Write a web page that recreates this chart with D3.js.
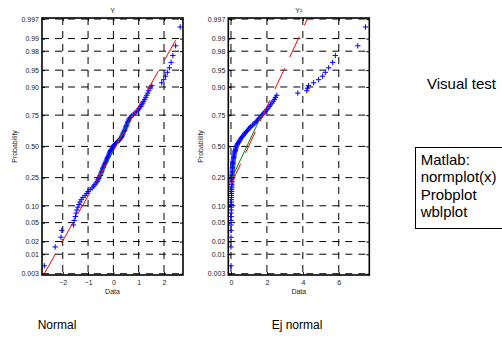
<!DOCTYPE html>
<html>
<head>
<meta charset="utf-8">
<script src="https://cdn.jsdelivr.net/npm/d3@7"></script>
<style>
  body { margin: 0; background: #fff; }
  svg { display: block; font-family: "Liberation Sans", Arial, sans-serif; }
</style>
</head>
<body>
<svg id="chart" width="502" height="338"></svg>
<script>
// sorted samples
const dataY = [
  -2.73, -2.30, -2.07, -2.04, -1.58, -1.55, -1.50, -1.47, -1.44, -1.40,
  -1.36, -1.32, -1.27, -1.20, -1.12, -1.05, -1.00, -0.92, -0.84, -0.78,
  -0.73, -0.68, -0.64, -0.61, -0.58, -0.55, -0.52, -0.50, -0.48, -0.46,
  -0.44, -0.42, -0.40, -0.38, -0.36, -0.33, -0.31, -0.29, -0.27, -0.25,
  -0.23, -0.21, -0.19, -0.17, -0.15, -0.13, -0.11, -0.08, -0.05, -0.02,
  0.01, 0.04, 0.08, 0.13, 0.18, 0.24, 0.28, 0.31, 0.33, 0.35,
  0.37, 0.39, 0.42, 0.44, 0.46, 0.48, 0.50, 0.52, 0.54, 0.56,
  0.58, 0.60, 0.63, 0.67, 0.72, 0.79, 0.86, 0.92, 0.98, 1.03,
  1.08, 1.12, 1.16, 1.20, 1.24, 1.28, 1.32, 1.36, 1.40, 1.45,
  1.52, 1.91, 1.99, 2.06, 2.13, 2.21, 2.28, 2.35, 2.46, 2.64
];
const dataY2 = [
  0.000, 0.001, 0.002, 0.004, 0.005, 0.006, 0.008, 0.010, 0.012, 0.014,
  0.016, 0.018, 0.020, 0.022, 0.025, 0.027, 0.030, 0.032, 0.035, 0.038,
  0.041, 0.044, 0.047, 0.050, 0.054, 0.058, 0.062, 0.066, 0.070, 0.075,
  0.080, 0.085, 0.090, 0.096, 0.102, 0.108, 0.115, 0.122, 0.130, 0.140,
  0.150, 0.162, 0.175, 0.190, 0.205, 0.220, 0.238, 0.255, 0.275, 0.295,
  0.32, 0.35, 0.38, 0.42, 0.46, 0.50, 0.55, 0.59, 0.64, 0.69,
  0.75, 0.80, 0.86, 0.92, 0.98, 1.04, 1.10, 1.20, 1.27, 1.34,
  1.41, 1.48, 1.55, 1.62, 1.69, 1.76, 1.83, 1.91, 1.99, 2.06,
  2.13, 2.20, 2.28, 2.35, 2.42, 2.48, 2.55, 3.72, 4.22, 4.26,
  4.32, 4.60, 4.88, 5.10, 5.25, 5.44, 5.66, 5.81, 7.06, 7.49
];

const probTicks = [0.003, 0.01, 0.02, 0.05, 0.10, 0.25, 0.50, 0.75, 0.90, 0.95, 0.98, 0.99, 0.997];
const probLabels = ["0.003", "0.01", "0.02", "0.05", "0.10", "0.25", "0.50", "0.75", "0.90", "0.95", "0.98", "0.99", "0.997"];
const xTicksY = [-2, -1, 0, 1, 2];
const xTicksY2 = [0, 2, 4, 6];
const xRangeY = [-2.82, 2.75];
const xRangeY2 = [-0.15, 7.7];
// red reference line [mean, std] as seen in the plots
const refLineY = [0.10, 1.03];
const refLineY2 = [0.98, 1.19];
const panelTitles = ["Y", "Y\u00b2"];
const captions = ["Normal", "Ej normal"];
const sideTitle = "Visual test";
const noteLines = ["Matlab:", "normplot(x)", "Probplot", "wblplot"];

// inverse normal cdf (Acklam)
function probit(p) {
  const a = [-39.69683028665376, 220.9460984245205, -275.9285104469687, 138.3577518672690, -30.66479806614716, 2.506628277459239];
  const b = [-54.47609879822406, 161.5858368580409, -155.6989798598866, 66.80131188771972, -13.28068155288572];
  const c = [-0.007784894002430293, -0.3223964580411365, -2.400758277161838, -2.549671010029161, 4.374664141464968, 2.938163982698783];
  const d = [0.007784695709041462, 0.3224671290700398, 2.445134137142996, 3.754408661907416];
  const pl = 0.02425;
  if (p < pl) {
    const q = Math.sqrt(-2 * Math.log(p));
    return (((((c[0]*q+c[1])*q+c[2])*q+c[3])*q+c[4])*q+c[5]) / ((((d[0]*q+d[1])*q+d[2])*q+d[3])*q+1);
  }
  if (p <= 1 - pl) {
    const q = p - 0.5, r = q * q;
    return (((((a[0]*r+a[1])*r+a[2])*r+a[3])*r+a[4])*r+a[5])*q / (((((b[0]*r+b[1])*r+b[2])*r+b[3])*r+b[4])*r+1);
  }
  return -probit(1 - p);
}

const svg = d3.select('#chart');
const yTop = 18, yBottom = 275;
const font = 7;

const yScale = d3.scaleLinear().domain([-2.775, 2.77]).range([yBottom, yTop]);

const panels = [
  { data: dataY, xDomain: xRangeY, xTicks: xTicksY, ref: refLineY, title: panelTitles[0], caption: captions[0], left: 42, right: 183, captionX: 57 },
  { data: dataY2, xDomain: xRangeY2, xTicks: xTicksY2, ref: refLineY2, title: panelTitles[1], caption: captions[1], left: 228.3, right: 369.3, captionX: 297 }
];

panels.forEach((pnl, k) => {
  const xScale = d3.scaleLinear().domain(pnl.xDomain).range([pnl.left, pnl.right]);
  const n = pnl.data.length;
  const pts = pnl.data.map((v, i) => ({ v, z: probit((i + 0.5) / n) }));

  const clipId = 'clip' + k;
  svg.append('clipPath').attr('id', clipId)
    .append('rect')
    .attr('x', pnl.left).attr('y', yTop)
    .attr('width', pnl.right - pnl.left).attr('height', yBottom - yTop);

  const g = svg.append('g');

  // dashed grid
  const grid = g.append('g').attr('stroke', '#000').attr('stroke-width', 1).attr('stroke-dasharray', '7,6');
  grid.selectAll('line.h')
    .data(probTicks)
    .enter()
    .append('line')
    .attr('x1', pnl.left).attr('x2', pnl.right)
    .attr('y1', (p) => yScale(probit(p))).attr('y2', (p) => yScale(probit(p)));
  grid.selectAll('line.v')
    .data(pnl.xTicks)
    .enter()
    .append('line')
    .attr('x1', (d) => xScale(d)).attr('x2', (d) => xScale(d))
    .attr('y1', yTop).attr('y2', yBottom);

  const plot = g.append('g').attr('clip-path', `url(#${clipId})`);

  // data as blue plus signs
  plot.selectAll('path.pt')
    .data(pts)
    .enter()
    .append('path')
    .attr('d', (d) => {
      const x = xScale(d.v), y = yScale(d.z);
      return `M${x - 2.7},${y}h5.4M${x},${y - 2.7}v5.4`;
    })
    .attr('stroke', '#0000ff')
    .attr('stroke-width', 1)
    .attr('fill', 'none');

  // green line through the quartiles
  const q1 = d3.quantile(pnl.data, 0.25), q3 = d3.quantile(pnl.data, 0.75);
  const zq = probit(0.75);
  plot.append('line')
    .attr('x1', xScale(q1)).attr('y1', yScale(-zq))
    .attr('x2', xScale(q3)).attr('y2', yScale(zq))
    .attr('stroke', '#008000').attr('stroke-width', 1);

  // red dashed reference line over the data range
  const [mu, sd] = pnl.ref;
  const vMin = d3.min(pnl.data), vMax = d3.max(pnl.data);
  plot.append('line')
    .attr('x1', xScale(vMin)).attr('y1', yScale((vMin - mu) / sd))
    .attr('x2', xScale(vMax)).attr('y2', yScale((vMax - mu) / sd))
    .attr('stroke', '#ff0000').attr('stroke-width', 1)
    .attr('stroke-dasharray', '23,12');

  // axes with inward ticks
  const yAxis = d3.axisLeft(yScale)
    .tickValues(probTicks.map(probit))
    .tickFormat((d, i) => probLabels[i])
    .tickSize(-3).tickPadding(3);
  const yAxisR = d3.axisRight(yScale)
    .tickValues(probTicks.map(probit))
    .tickFormat('')
    .tickSize(-3);
  const xAxis = d3.axisBottom(xScale)
    .tickValues(pnl.xTicks)
    .tickFormat(d3.format('d'))
    .tickSize(-3).tickPadding(5);
  const xAxisT = d3.axisTop(xScale)
    .tickValues(pnl.xTicks)
    .tickFormat('')
    .tickSize(-3);

  const axes = [
    g.append('g').attr('transform', `translate(${pnl.left},0)`).call(yAxis),
    g.append('g').attr('transform', `translate(${pnl.right},0)`).call(yAxisR),
    g.append('g').attr('transform', `translate(0,${yBottom})`).call(xAxis),
    g.append('g').attr('transform', `translate(0,${yTop})`).call(xAxisT)
  ];
  axes.forEach((a) => {
    a.select('.domain').remove();
    a.attr('font-size', font).attr('font-family', null);
    a.selectAll('text').attr('fill', '#222');
    a.selectAll('line').attr('stroke', '#000');
  });

  // frame
  g.append('rect')
    .attr('x', pnl.left).attr('y', yTop)
    .attr('width', pnl.right - pnl.left).attr('height', yBottom - yTop)
    .attr('fill', 'none').attr('stroke', '#000').attr('stroke-width', 1.6);

  const cx = (pnl.left + pnl.right) / 2;
  g.append('text').attr('x', cx).attr('y', 12.7).attr('text-anchor', 'middle')
    .attr('font-size', font).attr('fill', '#222').text(pnl.title);
  g.append('text').attr('x', cx).attr('y', 294).attr('text-anchor', 'middle')
    .attr('font-size', font).attr('fill', '#222').text('Data');
  g.append('text')
    .attr('transform', `translate(${pnl.left - 25},${(yTop + yBottom) / 2}) rotate(-90)`)
    .attr('text-anchor', 'middle')
    .attr('font-size', font).attr('fill', '#222').text('Probability');

  svg.append('text').attr('x', pnl.captionX).attr('y', 329).attr('text-anchor', 'middle')
    .attr('font-size', 12).attr('fill', '#000').text(pnl.caption);
});

// side notes
svg.append('text').attr('x', 427).attr('y', 89).attr('font-size', 15).attr('fill', '#000').text(sideTitle);
svg.append('rect').attr('x', 415.5).attr('y', 147.5).attr('width', 100).attr('height', 81)
  .attr('fill', 'none').attr('stroke', '#000').attr('stroke-width', 1);
svg.selectAll('text.note')
  .data(noteLines)
  .enter()
  .append('text')
  .attr('x', 420.7)
  .attr('y', (_, i) => 165 + i * 17.3)
  .attr('font-size', 15)
  .attr('fill', '#000')
  .text((d) => d);
</script>
</body>
</html>
